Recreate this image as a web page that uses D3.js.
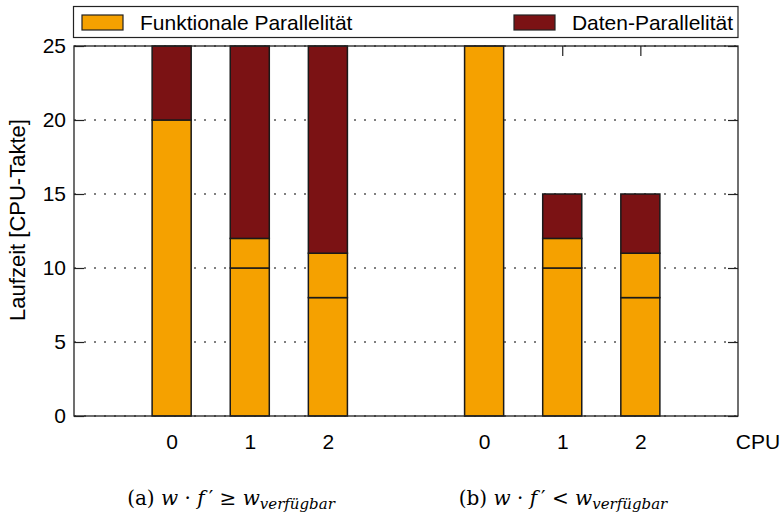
<!DOCTYPE html>
<html>
<head>
<meta charset="utf-8">
<script src="https://cdn.jsdelivr.net/npm/d3@7"></script>
<style>
  html, body { margin: 0; padding: 0; background: #fff; }
  svg { display: block; }
  text { font-family: "Liberation Sans", Arial, sans-serif; fill: #000; }
</style>
</head>
<body>
<svg id="chart" width="783" height="517"></svg>
<script>
// Slot positions of the bars (two groups of three CPUs, one empty slot between)
const slots = [0, 1, 2, 4, 5, 6];
const cpuLabels = ["0", "1", "2", "0", "1", "2"];
// Functional parallelism, split into two stacked parts per CPU
const funcPart1 = [20, 10, 8, 25, 10, 8];
const funcPart2 = [0, 2, 3, 0, 2, 3];
// Data parallelism stacked on top
const dataPart = [5, 13, 14, 0, 3, 4];
const yTicks = [0, 5, 10, 15, 20, 25];
const seriesNames = ["Funktionale Parallelität", "Daten-Parallelität"];
const xAxisTitle = "CPU";
const yAxisTitle = "Laufzeit [CPU-Takte]";

const colors = { func: "#F5A100", data: "#7B1214" };

const svg = d3.select("#chart");
const margin = { left: 74, right: 45, top: 46, bottom: 101 };
const W = 783, H = 517;
const x = d3.scaleLinear().domain([-1.25, 7.25]).range([margin.left, W - margin.right]);
const y = d3.scaleLinear().domain([0, 25]).range([H - margin.bottom, margin.top]);
const barW = x(0.5) - x(0);

// Grid lines (dotted)
svg.append("g")
  .selectAll("line")
  .data(yTicks)
  .join("line")
  .attr("x1", x.range()[0]).attr("x2", x.range()[1])
  .attr("y1", d => y(d)).attr("y2", d => y(d))
  .attr("stroke", "#555").attr("stroke-width", 1.3)
  .attr("stroke-dasharray", "2,8");

// Inward tick marks: left, right, top
const tickLen = 10;
svg.append("g")
  .attr("transform", `translate(${x.range()[0]},0)`)
  .call(d3.axisRight(y).tickValues(yTicks).tickSize(tickLen).tickFormat(""))
  .call(g => g.select(".domain").remove())
  .call(g => g.selectAll("line").attr("stroke", "#222").attr("stroke-width", 1.2));
svg.append("g")
  .attr("transform", `translate(${x.range()[1]},0)`)
  .call(d3.axisLeft(y).tickValues(yTicks).tickSize(tickLen).tickFormat(""))
  .call(g => g.select(".domain").remove())
  .call(g => g.selectAll("line").attr("stroke", "#222").attr("stroke-width", 1.2));
svg.append("g")
  .attr("transform", `translate(0,${y.range()[1]})`)
  .call(d3.axisBottom(x).tickValues(slots).tickSize(tickLen).tickFormat(""))
  .call(g => g.select(".domain").remove())
  .call(g => g.selectAll("line").attr("stroke", "#222").attr("stroke-width", 1.2));

// Stacked bars
const rows = slots.map((s, i) => ({ s, f1: funcPart1[i], f2: funcPart2[i], d: dataPart[i] }));
const segs = [];
rows.forEach(r => {
  const parts = [
    { v: r.f1, c: colors.func },
    { v: r.f2, c: colors.func },
    { v: r.d, c: colors.data }
  ];
  let base = 0;
  parts.forEach(p => {
    if (p.v > 0) segs.push({ s: r.s, y0: base, y1: base + p.v, c: p.c });
    base += p.v;
  });
});
svg.append("g")
  .selectAll("rect")
  .data(segs)
  .join("rect")
  .attr("x", d => x(d.s) - barW / 2)
  .attr("width", barW)
  .attr("y", d => y(d.y1))
  .attr("height", d => y(d.y0) - y(d.y1))
  .attr("fill", d => d.c)
  .attr("stroke", "#1a1a1a")
  .attr("stroke-width", 1.5);

// Plot border
svg.append("rect")
  .attr("x", x.range()[0]).attr("y", y.range()[1])
  .attr("width", x.range()[1] - x.range()[0])
  .attr("height", y.range()[0] - y.range()[1])
  .attr("fill", "none").attr("stroke", "#222").attr("stroke-width", 1.3);

// Y axis labels
svg.append("g")
  .attr("transform", `translate(${x.range()[0]},0)`)
  .call(d3.axisLeft(y).tickValues(yTicks).tickSize(0).tickPadding(8))
  .call(g => g.select(".domain").remove())
  .call(g => g.selectAll("text").attr("font-size", 21).attr("font-family", "Liberation Sans, Arial, sans-serif").attr("fill", "#000"));

// X axis labels (CPU indices + axis title at the far end)
const xTickPos = slots.concat([7.5]);
const xTickText = cpuLabels.concat([xAxisTitle]);
svg.append("g")
  .attr("transform", `translate(0,${y.range()[0]})`)
  .call(d3.axisBottom(x).tickValues(xTickPos).tickSize(0).tickPadding(18)
    .tickFormat((d, i) => xTickText[i]))
  .call(g => g.select(".domain").remove())
  .call(g => g.selectAll("text").attr("font-size", 21).attr("font-family", "Liberation Sans, Arial, sans-serif").attr("fill", "#000"));

// Y axis title
svg.append("text")
  .attr("transform", `translate(25,220) rotate(-90)`)
  .attr("text-anchor", "middle")
  .attr("font-size", 22)
  .text(yAxisTitle);

// Legend
const leg = svg.append("g");
leg.append("rect")
  .attr("x", 73.5).attr("y", 6.5).attr("width", 664.5).attr("height", 31)
  .attr("fill", "#fff").attr("stroke", "#222").attr("stroke-width", 1.2);
leg.append("rect")
  .attr("x", 82).attr("y", 15).attr("width", 41).attr("height", 15)
  .attr("fill", colors.func).attr("stroke", "#222").attr("stroke-width", 1.2);
leg.append("text").attr("x", 140).attr("y", 30).attr("font-size", 21).text(seriesNames[0]);
leg.append("rect")
  .attr("x", 514).attr("y", 15).attr("width", 41).attr("height", 15)
  .attr("fill", colors.data).attr("stroke", "#222").attr("stroke-width", 1.2);
leg.append("text").attr("x", 733).attr("y", 30).attr("text-anchor", "end").attr("font-size", 21).text(seriesNames[1]);

// Sub-figure captions
function caption(cx, label, rel) {
  const t = svg.append("text")
    .attr("x", cx).attr("y", 505)
    .attr("text-anchor", "middle")
    .style("font-family", "'DejaVu Serif', 'Liberation Serif', serif")
    .attr("font-size", 20);
  t.append("tspan").text(label + " ");
  t.append("tspan").attr("font-style", "italic").text("w");
  t.append("tspan").text(" · ");
  t.append("tspan").attr("font-style", "italic").text("f");
  t.append("tspan").text("\u2009′ " + rel + " ");
  t.append("tspan").attr("font-style", "italic").text("w");
  t.append("tspan").attr("font-style", "italic").attr("font-size", 15).attr("dy", 4).text("verfügbar");
}
caption(231, "(a)", "≥");
caption(563, "(b)", "<");
</script>
</body>
</html>
